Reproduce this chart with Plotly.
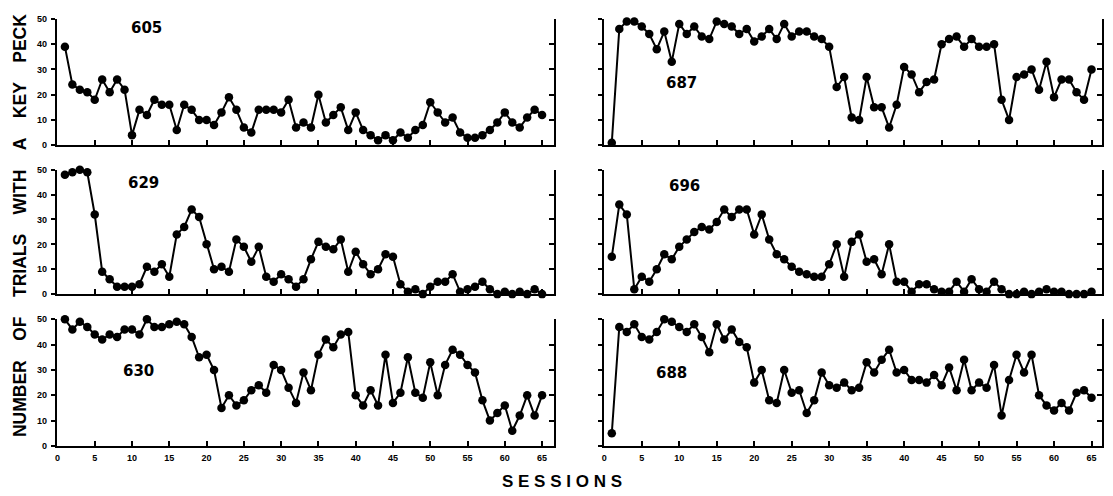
import plotly.graph_objects as go

sessions = list(range(1, 66))

r605 = [39,24,22,21,18,26,21,26,22,4, 14,12,18,16,16,6,16,14,10,10,
        8,13,19,14,7,5,14,14,14,13, 18,7,9,7,20,9,12,15,6,13,
        6,4,2,4,2,5,3,6,8,17, 13,9,11,5,3,3,4,6,9,13, 9,7,11,14,12]
r687 = [1,46,49,49,47,44,38,45,33,48, 44,47,43,42,49,48,47,44,46,41,
        43,46,42,48,43,45,45,43,42,39, 23,27,11,10,27,15,15,7,16,31,
        28,21,25,26,40,42,43,39,42,39, 39,40,18,10,27,28,30,22,33,19, 26,26,21,18,30]
r629 = [48,49,50,49,32,9,6,3,3,3, 4,11,9,12,7,24,27,34,31,20,
        10,11,9,22,19,13,19,7,5,8, 6,3,6,14,21,19,18,22,9,17,
        12,8,10,16,15,4,1,2,0,3, 5,5,8,1,2,3,5,2,0,1, 0,1,0,2,0]
r696 = [15,36,32,2,7,5,10,16,14,19, 22,25,27,26,29,34,31,34,34,24,
        32,22,16,14,11,9,8,7,7,12, 20,7,21,24,13,14,8,20,5,5,
        1,4,4,2,1,1,5,1,6,2, 1,5,2,0,0,1,0,1,2,1, 1,0,0,0,1]
r630 = [50,46,49,47,44,42,44,43,46,46, 44,50,47,47,48,49,48,43,35,36,
        30,15,20,16,18,22,24,21,32,30, 23,17,29,22,36,42,39,44,45,20,
        16,22,16,36,17,21,35,21,19,33, 20,32,38,36,32,29,18,10,13,16, 6,12,20,12,20]
r688 = [5,47,45,48,43,42,45,50,49,47, 45,48,43,37,48,42,46,41,39,25,
        30,18,17,30,21,22,13,18,29,24, 23,25,22,23,33,29,34,38,29,30,
        26,26,25,28,24,31,22,34,22,25, 23,32,12,26,36,29,36,20,16,14, 17,14,21,22,19]

panels = [("605", r605), ("687", r687), ("629", r629),
          ("696", r696), ("630", r630), ("688", r688)]
label_pos = {"605": (12, 46.5), "687": (10.3, 24.8), "629": (11.6, 44.5),
             "696": (10.7, 43.3), "630": (10.9, 29.5), "688": (8.9, 28.8)}

x_ticks = list(range(0, 66, 5))
y_ticks = [0, 10, 20, 30, 40, 50]

OFF = 8  # page body margin
W, H = 1113 - OFF, 496 - OFF
col_px = [(54.8, 553.0, [-0.1, 66.6]), (603.0, 1102.0, [-0.05, 66.4])]
row_px = [(14.0, 143.0), (168.0, 295.0), (320.7, 450.0)]

fig = go.Figure()
layout = dict(width=W, height=H, margin=dict(l=0, r=0, t=0, b=0),
              paper_bgcolor="white", plot_bgcolor="white", showlegend=False)
annotations = []
tickfont = dict(family="Liberation Sans", size=9, color="black", weight="bold")

for i, (name, vals) in enumerate(panels):
    r, c = divmod(i, 2)
    n = i + 1
    xa = "x" if n == 1 else f"x{n}"
    ya = "y" if n == 1 else f"y{n}"
    fig.add_trace(go.Scatter(x=sessions, y=vals, xaxis=xa, yaxis=ya,
                             mode="lines+markers", cliponaxis=False,
                             line=dict(color="black", width=2),
                             marker=dict(color="black", size=8.5)))
    x0, x1, xr = col_px[c]
    y0, y1 = row_px[r]
    x0 -= OFF; x1 -= OFF; y0 -= OFF; y1 -= OFF
    bottom = r == 2
    layout[f"xaxis{n}"] = dict(
        domain=[x0 / W, x1 / W], range=xr, anchor=ya,
        showline=True, linecolor="black", linewidth=2,
        ticks="inside", ticklen=5, tickwidth=2, tickcolor="black",
        tickvals=x_ticks, showticklabels=bottom, tickfont=tickfont,
        ticklabelstandoff=2, showgrid=False, zeroline=False, fixedrange=True)
    layout[f"yaxis{n}"] = dict(
        domain=[1 - y1 / H, 1 - y0 / H], range=[0, 50], anchor=xa,
        showline=True, linecolor="black", linewidth=2,
        ticks="outside", ticklen=4, tickwidth=2, tickcolor="black",
        tickvals=y_ticks, showticklabels=(c == 0), tickfont=tickfont,
        ticklabelstandoff=2, showgrid=False, zeroline=False, fixedrange=True)
    m = n + 6
    layout[f"yaxis{m}"] = dict(
        overlaying=ya, side="right", anchor=xa, range=[0, 50],
        showline=True, linecolor="black", linewidth=2,
        ticks="inside", ticklen=5, tickwidth=2, tickcolor="black",
        tickvals=y_ticks, showticklabels=False,
        showgrid=False, zeroline=False, fixedrange=True)
    lx, ly = label_pos[name]
    annotations.append(dict(x=lx, y=ly, xref=xa, yref=ya, text=name,
                            showarrow=False, xanchor="center", yanchor="middle",
                            font=dict(family="DejaVu Sans", size=15,
                                      color="black", weight="bold")))

# invisible traces to activate overlay axes
for i in range(6):
    n = i + 1
    xa = "x" if n == 1 else f"x{n}"
    fig.add_trace(go.Scatter(x=[None], y=[None], xaxis=xa, yaxis=f"y{n+6}",
                             mode="markers", hoverinfo="skip"))

sp = "\u00a0" * 4
ytitle = sp.join(["NUMBER", "OF", "TRIALS", "WITH", "A", "KEY", "PECK"])
annotations.append(dict(x=(18 - OFF) / W, y=1 - (224.5 - OFF) / H,
                        xref="paper", yref="paper", xanchor="center",
                        yanchor="middle", text=ytitle, textangle=-90,
                        showarrow=False,
                        font=dict(family="Liberation Sans", size=17.5,
                                  color="black", weight="bold")))
annotations.append(dict(x=(561 - OFF) / W, y=1 - (486 - OFF) / H,
                        xref="paper", yref="paper", xanchor="center",
                        yanchor="middle", text="S E S S I O N S",
                        showarrow=False,
                        font=dict(family="Liberation Sans", size=17,
                                  color="black", weight="bold")))
layout["annotations"] = annotations
fig.update_layout(**layout)
fig.write_html("out.html")
